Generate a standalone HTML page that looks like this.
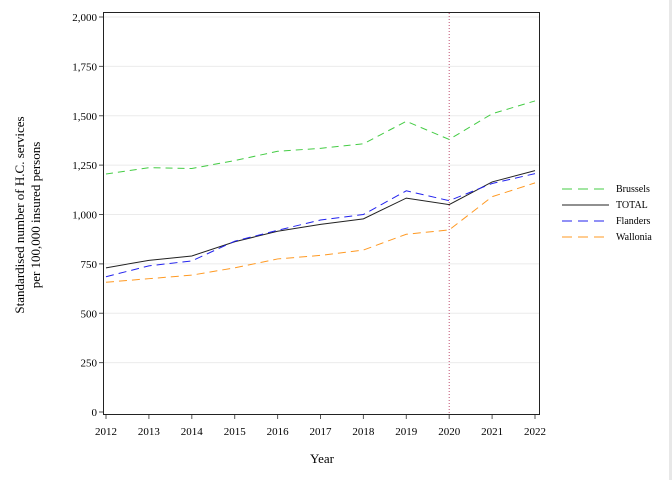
<!DOCTYPE html>
<html><head><meta charset="utf-8"><style>
body{margin:0;background:#fff;}
svg text{font-family:"Liberation Serif",serif;fill:#000;}
</style></head><body>
<svg width="672" height="480" viewBox="0 0 672 480">
<rect x="669" y="0" width="3" height="480" fill="#e8e8e8"/>
<g id="grid"></g>
<g id="axes"></g>
<g id="series"></g>
<text x="322" y="463" font-size="13" text-anchor="middle">Year</text>
<text transform="translate(24,215) rotate(-90)" font-size="13" text-anchor="middle"><tspan x="0" dy="0">Standardised number of H.C. services</tspan><tspan x="0" dy="16">per 100,000 insured persons</tspan></text>
<g id="legend"></g>
</svg>
<script>
const years=[2012,2013,2014,2015,2016,2017,2018,2019,2020,2021,2022];
const brussels=[1205,1237,1233,1273,1320,1335,1358,1472,1380,1510,1575];
const total=[730,768,790,862,915,950,978,1083,1050,1165,1222];
const flanders=[685,740,765,865,920,972,1000,1120,1070,1157,1207];
const wallonia=[657,675,693,730,775,793,820,900,922,1090,1160];
const yTicks=[0,250,500,750,1000,1250,1500,1750,2000];
const yTickLabels=["0","250","500","750","1,000","1,250","1,500","1,750","2,000"];
const refYear=2020;
const NS="http://www.w3.org/2000/svg";
const x0=106,x1=535,yb=412,yt=17;
const xs=v=>x0+(v-2012)*(x1-x0)/10;
const ys=v=>yb-v*(yb-yt)/2000;
function mk(t,a,p){const e=document.createElementNS(NS,t);for(const k in a)e.setAttribute(k,a[k]);p.appendChild(e);return e;}
const grid=document.getElementById('grid'),axes=document.getElementById('axes'),ser=document.getElementById('series'),leg=document.getElementById('legend');
yTicks.forEach((v,i)=>{
 if(v>0){const g=mk('line',{x1:104,x2:539,y1:ys(v),y2:ys(v),stroke:'#ebebeb','stroke-width':1},grid);
 
 }
 const t=mk('line',{x1:99,x2:103,y1:ys(v),y2:ys(v),stroke:'#555'},axes);
 
 
 const l=mk('text',{x:97,y:ys(v)+4,'font-size':11,'text-anchor':'end'},axes);l.textContent=yTickLabels[i];
 
 
});
years.forEach(y=>{
 const t=mk('line',{x1:xs(y),x2:xs(y),y1:414,y2:419,stroke:'#555'},axes);
 
 
 const l=mk('text',{x:xs(y),y:435,'font-size':11,'text-anchor':'middle'},axes);l.textContent=y;
 
 
});
const frame=mk('rect',{x:103.5,y:12.5,width:436,height:402,fill:'none',stroke:'#222','stroke-width':1},axes);


const rl=mk('line',{x1:xs(refYear),x2:xs(refYear),y1:13,y2:414,stroke:'#c05070','stroke-width':1,'stroke-dasharray':'1,2'},ser);


const defs=[["Brussels",brussels,"#44cc44","7,5"],["TOTAL",total,"#222",""],["Flanders",flanders,"#2222ee","8,5"],["Wallonia",wallonia,"#ff9922","8,5"]];
defs.forEach((d,i)=>{
 const p=mk('polyline',{points:years.map((y,j)=>xs(y)+','+ys(d[1][j])).join(' '),fill:'none',stroke:d[2],'stroke-width':1,'stroke-dasharray':d[3]},ser);
 
 
 const ly=189+i*16;
 const ll=mk('line',{x1:562,x2:609,y1:ly,y2:ly,stroke:d[2],'stroke-width':1,'stroke-dasharray':d[3]?'10,6':''},leg);
 
 
 const lt=mk('text',{x:616,y:ly+3,'font-size':10},leg);lt.textContent=d[0];
 
 
});
</script>
</body></html>
